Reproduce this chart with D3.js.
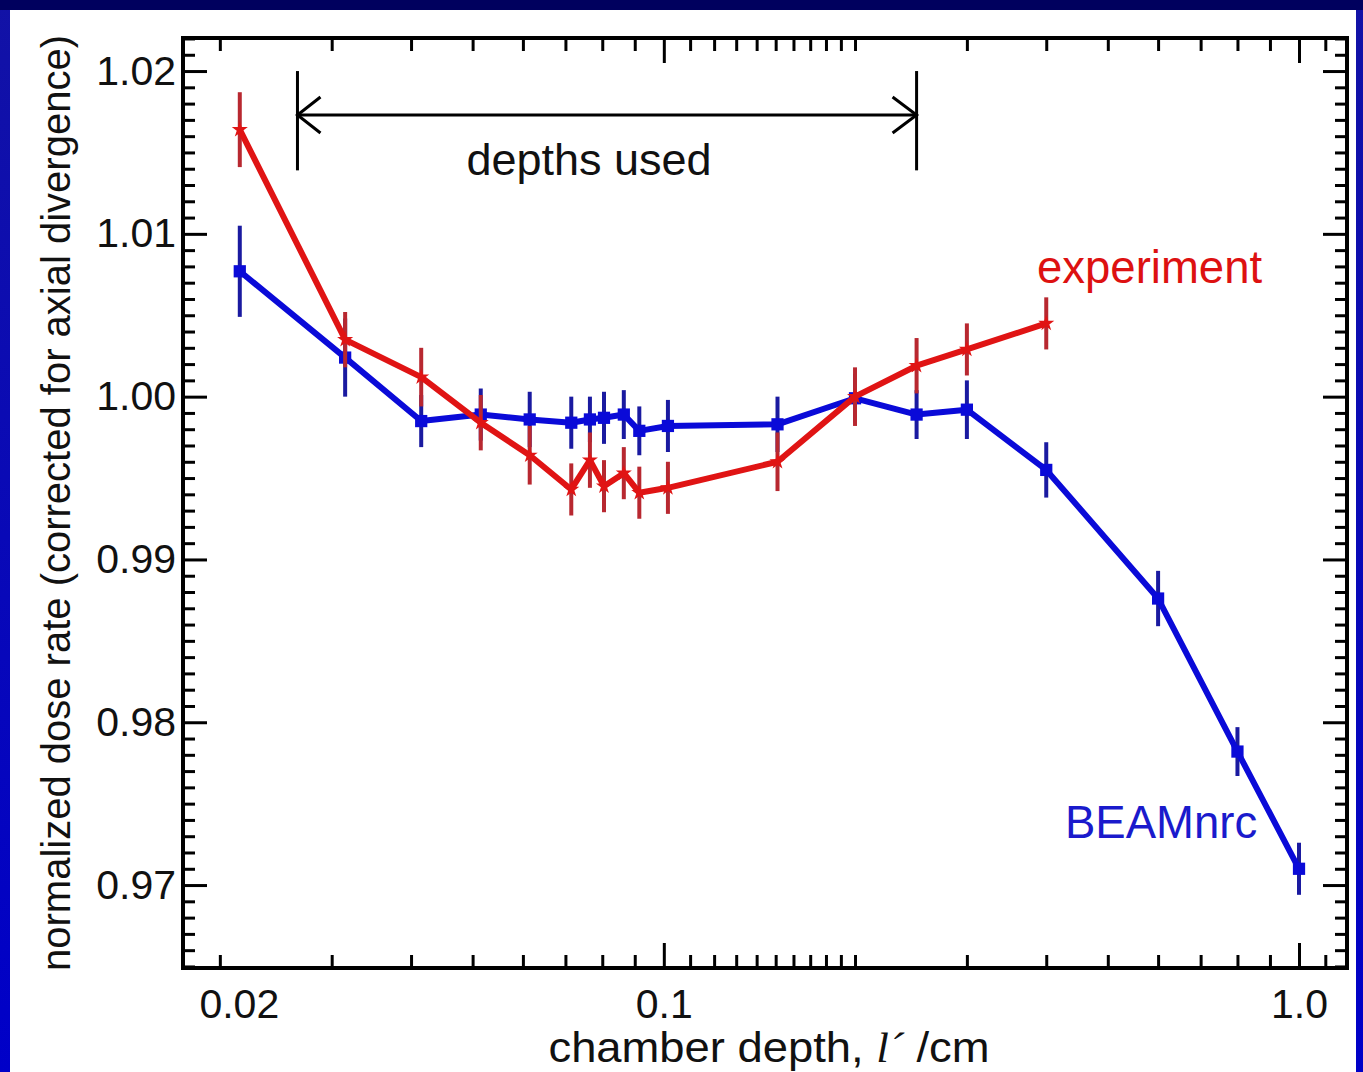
<!DOCTYPE html>
<html>
<head>
<meta charset="utf-8">
<script src="https://cdn.jsdelivr.net/npm/d3@7"></script>
<style>
  html, body { margin: 0; padding: 0; background: #0000c0; }
  svg { display: block; }
  text { font-family: "Liberation Sans", Arial, Helvetica, sans-serif; }
</style>
</head>
<body>
<svg id="chart" width="1363" height="1072"></svg>
<script>
// Chamber depths (cm) at which the dose rate was evaluated
const depths = [0.0215, 0.0315, 0.0415, 0.0515, 0.0615, 0.0715, 0.0765, 0.0805, 0.0865,
                0.0915, 0.1015, 0.151, 0.2, 0.25, 0.3, 0.4, 0.6, 0.8, 1.0];

// Measured dose rate (first 16 depths) and its uncertainty
const experimentValues = [1.0164, 1.0035, 1.0012, 0.9984, 0.9964, 0.9943, 0.9961, 0.9945,
                          0.9953, 0.9941, 0.9944, 0.9960, 1.0000, 1.0019, 1.0029, 1.0045];
const experimentErrors = [0.0023, 0.0017, 0.0018, 0.0017, 0.0018, 0.0016, 0.0017, 0.0016,
                          0.0016, 0.0016, 0.0016, 0.0018, 0.0018, 0.0017, 0.0016, 0.0016];

// Simulated dose rate (all depths) and its uncertainty
const beamValues = [1.0077, 1.0024, 0.9985, 0.9989, 0.9986, 0.9984, 0.9986, 0.9987, 0.9989,
                    0.9979, 0.9982, 0.9983, 0.9999, 0.9989, 0.9992, 0.9955, 0.9876, 0.9782, 0.9710];
const beamErrors = [0.0028, 0.0024, 0.0016, 0.0016, 0.0017, 0.0016, 0.0014, 0.0016, 0.0015,
                    0.0015, 0.0016, 0.0017, 0.0015, 0.0015, 0.0018, 0.0017, 0.0017, 0.0015, 0.0016];

// Axis ticks
const xMinorTicks = [0.02, 0.03, 0.04, 0.05, 0.06, 0.07, 0.08, 0.09,
                     0.11, 0.12, 0.13, 0.14, 0.15, 0.16, 0.17, 0.18, 0.19,
                     0.2, 0.3, 0.4, 0.5, 0.6, 0.7, 0.8, 0.9, 1.1];
const xMajorTicks = [0.1, 1.0];
const xTickLabels = [0.02, 0.1, 1.0];
const xTickText = ["0.02", "0.1", "1.0"];
const yMajorTicks = [0.97, 0.98, 0.99, 1.00, 1.01, 1.02];
const yTickText = ["0.97", "0.98", "0.99", "1.00", "1.01", "1.02"];

// Range of depths used, drawn as a double-headed arrow
const depthsUsed = [0.0265, 0.25];
const depthsUsedLevel = 1.0173;
const depthsUsedBar = [1.0139, 1.0200];

const svg = d3.select("#chart");
const W = 1363, H = 1072;
const plot = { left: 183, top: 38, right: 1347, bottom: 968 };

// slide background
const defs = svg.append("defs");
const grad = defs.append("linearGradient").attr("id", "bg").attr("x1", 0).attr("y1", 0).attr("x2", 0).attr("y2", 1);
grad.append("stop").attr("offset", "0%").attr("stop-color", "#1212a6");
grad.append("stop").attr("offset", "100%").attr("stop-color", "#0000c8");
svg.append("rect").attr("width", W).attr("height", H).attr("fill", "url(#bg)");
svg.append("rect").attr("width", W).attr("height", 10).attr("fill", "#00005e");
svg.append("rect").attr("x", 10).attr("y", 10).attr("width", 1346).attr("height", H - 10).attr("fill", "#ffffff");

const x = d3.scaleLog().domain([0.0175, 1.19]).range([plot.left, plot.right]);
const y = d3.scaleLinear().domain([0.964905, 1.02203]).range([plot.bottom, plot.top]);

const yMinorTicks = d3.range(965, 1023).map(d => d / 1000).filter(v => !yMajorTicks.some(m => Math.abs(m - v) < 1e-9));

function styleAxis(g) {
  g.select(".domain").remove();
  g.selectAll(".tick line").attr("stroke", "#000").attr("stroke-width", 3);
}

// bottom and top axes
const axesX = [
  { gen: d3.axisBottom, pos: plot.bottom },
  { gen: d3.axisTop, pos: plot.top }
];
axesX.forEach(a => {
  svg.append("g").attr("transform", `translate(0,${a.pos})`)
    .call(a.gen(x).tickValues(xMinorTicks).tickSize(-13).tickFormat(""))
    .call(styleAxis);
  svg.append("g").attr("transform", `translate(0,${a.pos})`)
    .call(a.gen(x).tickValues(xMajorTicks).tickSize(-25).tickFormat(""))
    .call(styleAxis);
});
const xLab = svg.append("g").attr("transform", `translate(0,${plot.bottom})`)
  .call(d3.axisBottom(x).tickValues(xTickLabels).tickSize(0).tickPadding(21)
        .tickFormat((d, i) => xTickText[i]));
xLab.select(".domain").remove();
xLab.selectAll("text").attr("font-size", 41).attr("fill", "#111")
  .attr("font-family", "'Liberation Sans', Arial, sans-serif")
  .attr("dx", (d, i) => i === 0 ? 19 : 0);

// left and right axes
const axesY = [
  { gen: d3.axisLeft, pos: plot.left },
  { gen: d3.axisRight, pos: plot.right }
];
axesY.forEach(a => {
  svg.append("g").attr("transform", `translate(${a.pos},0)`)
    .call(a.gen(y).tickValues(yMinorTicks).tickSize(-12).tickFormat(""))
    .call(styleAxis);
  svg.append("g").attr("transform", `translate(${a.pos},0)`)
    .call(a.gen(y).tickValues(yMajorTicks).tickSize(-24).tickFormat(""))
    .call(styleAxis);
});
const yLab = svg.append("g").attr("transform", `translate(${plot.left},0)`)
  .call(d3.axisLeft(y).tickValues(yMajorTicks).tickSize(0).tickPadding(7)
        .tickFormat((d, i) => yTickText[i]));
yLab.select(".domain").remove();
yLab.selectAll("text").attr("font-size", 41).attr("fill", "#111")
  .attr("font-family", "'Liberation Sans', Arial, sans-serif");

// frame
svg.append("rect")
  .attr("x", plot.left).attr("y", plot.top)
  .attr("width", plot.right - plot.left).attr("height", plot.bottom - plot.top)
  .attr("fill", "none").attr("stroke", "#000").attr("stroke-width", 4);

// axis titles
svg.append("text")
  .attr("transform", `translate(70,${(plot.top + plot.bottom) / 2}) rotate(-90)`)
  .attr("text-anchor", "middle").attr("font-size", 40).attr("fill", "#111")
  .text("normalized dose rate (corrected for axial divergence)");

const xTitle = svg.append("text")
  .attr("transform", "translate(769,1062) scale(1.08,1)")
  .attr("text-anchor", "middle")
  .attr("font-size", 42).attr("fill", "#111");
xTitle.append("tspan").text("chamber depth, ");
xTitle.append("tspan").attr("font-family", "'Liberation Serif', 'Times New Roman', serif")
  .attr("font-style", "italic").text("l\u00B4");
xTitle.append("tspan").text(" /cm");

// depths-used annotation
const ann = svg.append("g").attr("stroke", "#000").attr("stroke-width", 3).attr("fill", "none");
const xa = x(depthsUsed[0]), xb = x(depthsUsed[1]), ya = y(depthsUsedLevel);
depthsUsed.forEach(d => {
  ann.append("line").attr("x1", x(d)).attr("x2", x(d))
    .attr("y1", y(depthsUsedBar[1])).attr("y2", y(depthsUsedBar[0]));
});
ann.append("line").attr("x1", xa).attr("x2", xb).attr("y1", ya).attr("y2", ya);
ann.append("polyline").attr("points", `${xa + 23},${ya - 18} ${xa},${ya} ${xa + 23},${ya + 18}`);
ann.append("polyline").attr("points", `${xb - 24},${ya - 18} ${xb},${ya} ${xb - 24},${ya + 18}`);
svg.append("text").attr("x", 589).attr("y", 175).attr("text-anchor", "middle")
  .attr("font-size", 45).attr("fill", "#111").text("depths used");

// series
const beam = depths.map((d, i) => ({ d, v: beamValues[i], e: beamErrors[i] }));
const experiment = experimentValues.map((v, i) => ({ d: depths[i], v, e: experimentErrors[i] }));

const line = d3.line().x(p => x(p.d)).y(p => y(p.v));

function drawSeries(data, lineColor, barColor, symbol, symSize) {
  const g = svg.append("g");
  g.selectAll("line.err").data(data).join("line").attr("class", "err")
    .attr("x1", p => x(p.d)).attr("x2", p => x(p.d))
    .attr("y1", p => y(p.v - p.e)).attr("y2", p => y(p.v + p.e))
    .attr("stroke", barColor).attr("stroke-width", 4);
  g.append("path").datum(data).attr("d", line)
    .attr("fill", "none").attr("stroke", lineColor).attr("stroke-width", 6)
    .attr("stroke-linejoin", "round");
  g.selectAll("path.mk").data(data).join("path").attr("class", "mk")
    .attr("transform", p => `translate(${x(p.d)},${y(p.v)})`)
    .attr("d", d3.symbol().type(symbol).size(symSize))
    .attr("fill", lineColor);
}

drawSeries(beam, "#0a0ad8", "#1a1aa0", d3.symbolSquare, 150);
drawSeries(experiment, "#e01414", "#b82830", d3.symbolStar, 80);

// series labels
svg.append("text").attr("x", 1037).attr("y", 283).attr("font-size", 45.5)
  .attr("fill", "#dd1111").text("experiment");
svg.append("text").attr("x", 1065).attr("y", 838).attr("font-size", 45.5)
  .attr("fill", "#1a1acc").text("BEAMnrc");
</script>
</body>
</html>
